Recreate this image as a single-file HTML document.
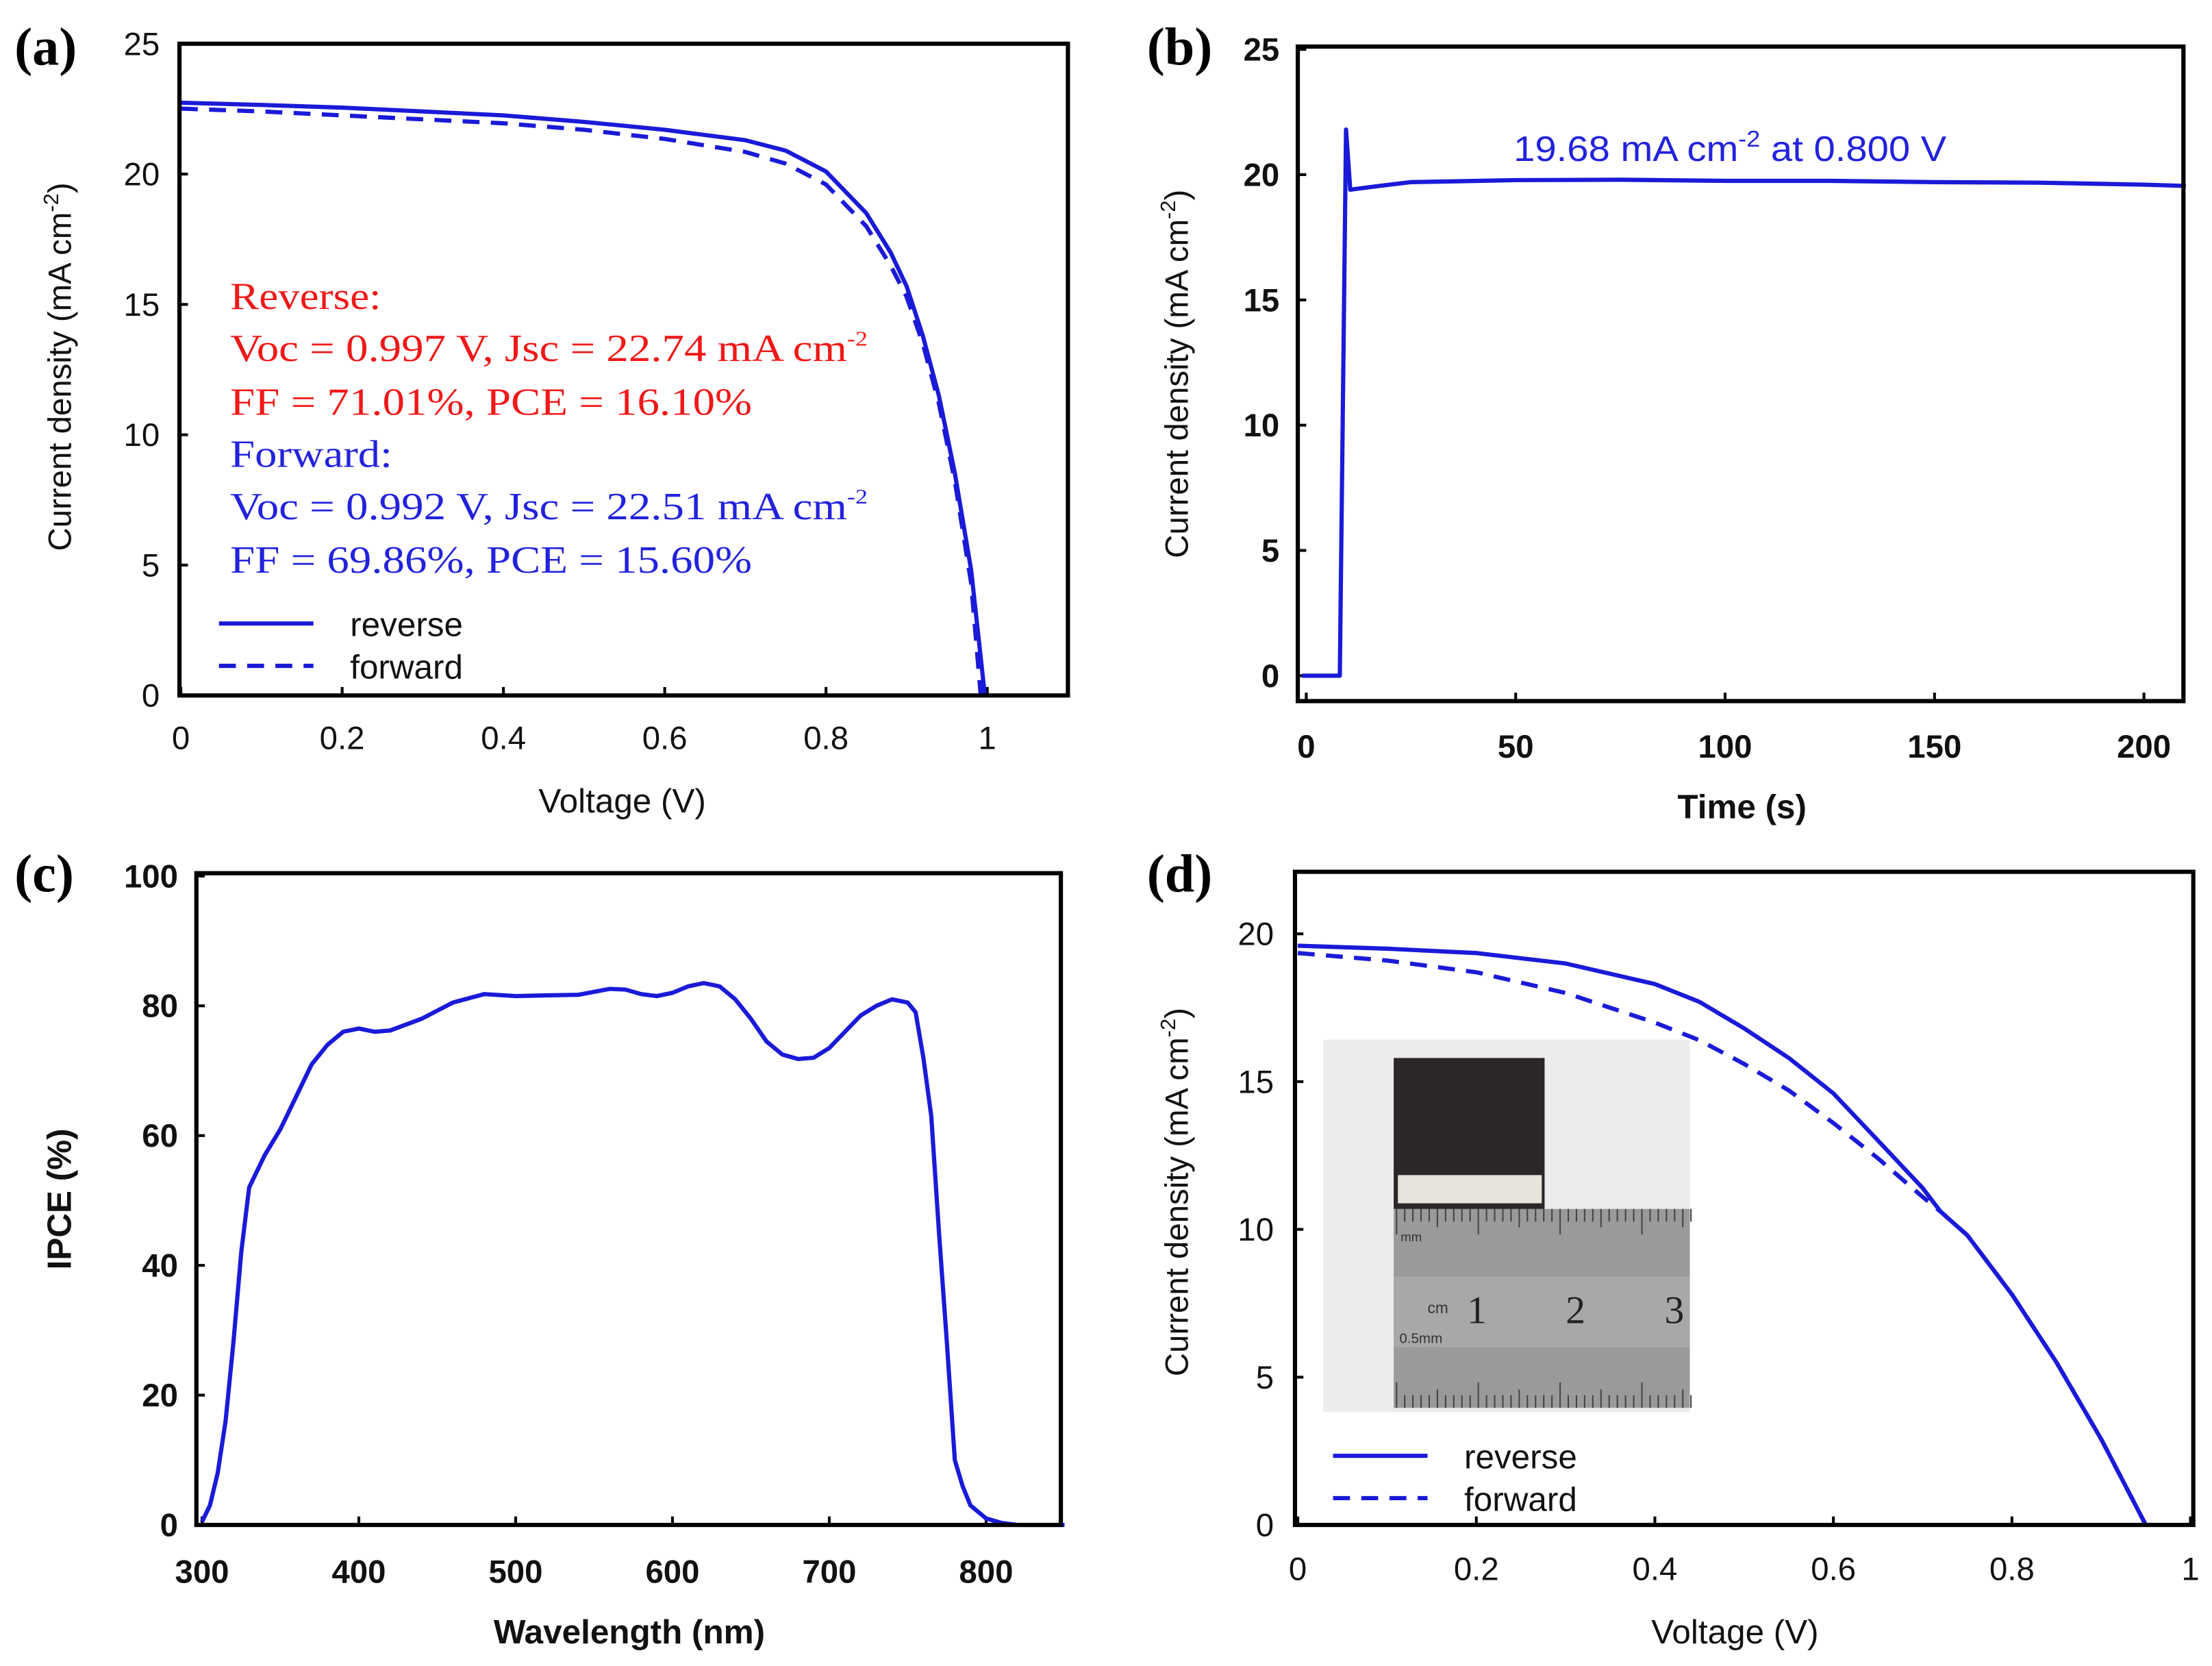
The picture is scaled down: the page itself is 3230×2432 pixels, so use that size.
<!DOCTYPE html>
<html><head><meta charset="utf-8"><style>
html,body{margin:0;padding:0;background:#fff;}
svg{display:block;}
text{font-family:"Liberation Sans",Arial,sans-serif;}
.serif{font-family:"Liberation Serif","Times New Roman",serif;}
</style></head><body>
<svg id="fig" width="3230" height="2432" viewBox="0 0 1568 1181" xmlns="http://www.w3.org/2000/svg">
<rect width="1568" height="1181" fill="#fff"/>
<text class="serif" x="10" y="46" font-size="38" font-weight="bold">(a)</text>
<text class="serif" x="813" y="46" font-size="38" font-weight="bold">(b)</text>
<text class="serif" x="10" y="632" font-size="38" font-weight="bold">(c)</text>
<text class="serif" x="813" y="632" font-size="38" font-weight="bold">(d)</text>

<g class="serif" font-size="27">
<text class="serif" x="163" y="219" fill="#f01818" textLength="107" lengthAdjust="spacingAndGlyphs">Reverse:</text>
<text class="serif" x="163" y="256" fill="#f01818" textLength="452" lengthAdjust="spacingAndGlyphs">Voc = 0.997 V, Jsc = 22.74 mA cm<tspan font-size="15" dy="-11">-2</tspan></text>
<text class="serif" x="163" y="294" fill="#f01818" textLength="370" lengthAdjust="spacingAndGlyphs">FF = 71.01%, PCE = 16.10%</text>
<text class="serif" x="163" y="331" fill="#2222dd" textLength="115" lengthAdjust="spacingAndGlyphs">Forward:</text>
<text class="serif" x="163" y="368" fill="#2222dd" textLength="452" lengthAdjust="spacingAndGlyphs">Voc = 0.992 V, Jsc = 22.51 mA cm<tspan font-size="15" dy="-11">-2</tspan></text>
<text class="serif" x="163" y="406" fill="#2222dd" textLength="370" lengthAdjust="spacingAndGlyphs">FF = 69.86%, PCE = 15.60%</text>
</g>
<text x="1073" y="114" font-size="25" fill="#2222dd" textLength="307" lengthAdjust="spacingAndGlyphs">19.68 mA cm<tspan font-size="16" dy="-10">-2</tspan><tspan dy="10"> at 0.800 V</tspan></text>

<g>
<rect x="938" y="737" width="260" height="264" fill="#ececec"/>
<rect x="988" y="857" width="210" height="141" fill="#9a9a9c"/>
<rect x="988" y="905" width="210" height="50" fill="#a8a8aa"/>
<g id="ruler-ticks" stroke="#444" stroke-width="1"></g>
<text class="serif" x="1040" y="938" font-size="28" fill="#222">1</text>
<text class="serif" x="1110" y="938" font-size="28" fill="#222">2</text>
<text class="serif" x="1180" y="938" font-size="28" fill="#222">3</text>
<text x="1012" y="931" font-size="11" fill="#333">cm</text>
<text x="993" y="880" font-size="9" fill="#333">mm</text>
<text x="992" y="952" font-size="10" fill="#333">0.5mm</text>
<rect x="988" y="750" width="107" height="107" fill="#2b2628"/>
<rect x="991" y="833" width="102" height="20" fill="#e8e4dc"/>
</g>
<g id="plots"></g>
</svg>
<script>
const aV_rev=[0,0.1,0.2,0.3,0.4,0.5,0.6,0.7,0.75,0.8,0.85,0.88,0.9,0.92,0.94,0.96,0.98,0.997];
const aJ_rev=[22.74,22.65,22.55,22.4,22.25,22.0,21.7,21.3,20.9,20.1,18.5,17.0,15.7,13.8,11.5,8.5,4.8,0];
const aV_fwd=[0,0.1,0.2,0.3,0.4,0.5,0.6,0.7,0.75,0.8,0.85,0.88,0.9,0.92,0.94,0.96,0.98,0.992];
const aJ_fwd=[22.51,22.4,22.25,22.1,21.95,21.7,21.35,20.85,20.4,19.6,18.0,16.5,15.3,13.5,11.2,8.2,4.3,0];
const bT=[-1,8,9.5,10.5,15,25,50,75,100,125,150,175,200,210];
const bJ=[0,0,21.8,19.4,19.5,19.7,19.78,19.8,19.75,19.75,19.7,19.68,19.6,19.55];
const cW=[300,305,310,315,320,325,330,340,350,360,370,380,390,400,410,420,440,460,480,500,520,540,560,570,580,590,600,610,620,630,640,650,660,670,680,690,700,710,720,730,740,750,755,760,765,770,775,780,785,790,800,810,820,850];
const cI=[0.5,3,8,16,28,42,52,57,61,66,71,74,76,76.5,76,76.2,78,80.5,81.8,81.5,81.6,81.7,82.6,82.5,81.8,81.5,82,83,83.5,83,81,78,74.5,72.5,71.8,72,73.5,76,78.5,80,81,80.5,79,72,63,45,28,10,6,3,1,0.3,0,0];
const dV_rev=[0,0.1,0.2,0.3,0.4,0.45,0.5,0.55,0.6,0.65,0.7,0.72,0.75,0.8,0.85,0.9,0.95];
const dJ_rev=[19.6,19.5,19.35,19.0,18.3,17.7,16.8,15.8,14.6,13.0,11.4,10.6,9.8,7.8,5.5,2.9,0];
const dV_fwd=[0,0.1,0.2,0.3,0.4,0.45,0.5,0.55,0.6,0.65,0.7,0.72,0.75,0.8,0.85,0.9,0.95];
const dJ_fwd=[19.35,19.1,18.7,18.0,17.0,16.4,15.6,14.7,13.6,12.4,11.1,10.6,9.8,7.8,5.5,2.9,0];
const aXt=[0,0.2,0.4,0.6,0.8,1], aYt=[0,5,10,15,20,25];
const bXt=[0,50,100,150,200], bYt=[0,5,10,15,20,25];
const cXt=[300,400,500,600,700,800], cYt=[0,20,40,60,80,100];
const dXt=[0,0.2,0.4,0.6,0.8,1], dYt=[0,5,10,15,20];

const NS="http://www.w3.org/2000/svg";
const root=document.getElementById('plots');
const BLUE="#1a1ad8";
function mk(tag,attrs,parent){const e=document.createElementNS(NS,tag);for(const k in attrs)e.setAttribute(k,attrs[k]);(parent||root).appendChild(e);return e;}
function lin(d0,d1,p0,p1){return v=>p0+(v-d0)*(p1-p0)/(d1-d0);}

function panel(P){
  const g=mk('g',{});
  
  
  const sx=lin(P.xd[0],P.xd[1],P.xp[0],P.xp[1]);
  const sy=lin(P.yd[0],P.yd[1],P.yp[0],P.yp[1]);
  const fw=P.bold?'bold':'normal';
  P.xt.forEach((v,i)=>{
    const x=sx(v);
    const t=mk('line',{x1:x,x2:x,y1:P.box[3],y2:P.box[3]-6,stroke:'#000','stroke-width':2},g);
    
    
    const l=mk('text',{x:x,y:P.xly,'font-size':P.fs,'text-anchor':'middle','font-weight':fw,fill:'#111'},g);
    
    
    l.textContent=String(v);
  });
  P.yt.forEach(v=>{
    const y=sy(v);
    const t=mk('line',{x1:P.box[0],x2:P.box[0]+6,y1:y,y2:y,stroke:'#000','stroke-width':2},g);
    
    
    const l=mk('text',{x:P.ylx,y:y+8,'font-size':P.fs,'text-anchor':'end','font-weight':fw,fill:'#111'},g);
    
    
    l.textContent=String(v);
  });
  P.series.forEach(s=>{
    const pts=s.x.map((xv,i)=>sx(xv).toFixed(1)+','+sy(s.y[i]).toFixed(1)).join(' ');
    const pl=mk('polyline',{points:pts,fill:'none',stroke:BLUE,'stroke-width':3,'stroke-linejoin':'round','stroke-dasharray':s.dash||'none'},g);
    
    
  });
  const b=P.box;
  const r=mk('rect',{x:b[0],y:b[1],width:b[2]-b[0],height:b[3]-b[1],fill:'none',stroke:'#000','stroke-width':3},g);
  
  
  const xt=mk('text',{x:P.xtitle[0],y:P.xtitle[1],'font-size':24,'text-anchor':'middle','font-weight':fw,fill:'#111'},g);
  
  
  xt.textContent=P.xlabel;
  const yfw=P.ylabel==='IPCE (%)'?'bold':'normal';
  const yt=mk('text',{x:0,y:0,'font-size':P.ylabel==='IPCE (%)'?24:23,'text-anchor':'middle','font-weight':yfw,fill:'#111',transform:`translate(${P.ytitle[0]},${P.ytitle[1]}) rotate(-90)`},g);
  
  
  if(P.ylabel==='J'){yt.innerHTML='Current density (mA cm<tspan font-size="15" dy="-9">-2</tspan><tspan dy="9">)</tspan>';}
  else yt.textContent=P.ylabel;
  if(P.legend){
    const L=P.legend;
    [['reverse','none'],['forward','12,8']].forEach((e,i)=>{
      const y=L[1]+i*30;
      const ln=mk('line',{x1:L[0],x2:L[0]+67,y1:y,y2:y,stroke:BLUE,'stroke-width':3,'stroke-dasharray':e[1]},g);
      
      
      const tx=mk('text',{x:L[0]+93,y:y+9,'font-size':24,fill:'#111'},g);
      
      
      tx.textContent=e[0];
    });
  }
}
panel({name:'panel-a-jv',xd:[0,1.1],xp:[128,757],yd:[0,25],yp:[493,31],box:[127,31,757,493],xt:aXt,yt:aYt,fs:23,xly:531,ylx:113,
  series:[{name:'reverse-curve-a',x:aV_rev,y:aJ_rev},{name:'forward-curve-a',x:aV_fwd,y:aJ_fwd,dash:'12,8'}],
  xlabel:'Voltage (V)',xtitle:[441,576],ylabel:'J',ytitle:[50,260],legend:[155,442]});
panel({name:'panel-b-stability',bold:true,xd:[0,200],xp:[926,1520],yd:[0,25],yp:[479,35],box:[920,33,1548,497],xt:bXt,yt:bYt,fs:23,xly:537,ylx:907,
  series:[{name:'stabilized-current',x:bT,y:bJ}],xlabel:'Time (s)',xtitle:[1235,580],ylabel:'J',ytitle:[842,265]});
panel({name:'panel-c-ipce',bold:true,xd:[300,800],xp:[143,699],yd:[0,100],yp:[1081,621],box:[139,619,752,1081],xt:cXt,yt:cYt,fs:23,xly:1122,ylx:126,
  series:[{name:'ipce-curve',x:cW,y:cI}],xlabel:'Wavelength (nm)',xtitle:[446,1165],ylabel:'IPCE (%)',ytitle:[50,850]});
panel({name:'panel-d-jv-large',xd:[0,1],xp:[920,1553],yd:[0,20],yp:[1081,662],box:[918,618,1555,1081],xt:dXt,yt:dYt,fs:23,xly:1120,ylx:903,
  series:[{name:'reverse-curve-d',x:dV_rev,y:dJ_rev},{name:'forward-curve-d',x:dV_fwd,y:dJ_fwd,dash:'12,8'}],
  xlabel:'Voltage (V)',xtitle:[1230,1165],ylabel:'J',ytitle:[842,845],legend:[945,1032]});
const rt=document.getElementById('ruler-ticks');
for(let i=0;i<=36;i++){const x=990+i*5.8;const h=i%10===0?18:(i%5===0?13:9);
  mk('line',{x1:x,x2:x,y1:857,y2:857+h},rt);mk('line',{x1:x,x2:x,y1:998,y2:998-h},rt);}
</script>
</body></html>
